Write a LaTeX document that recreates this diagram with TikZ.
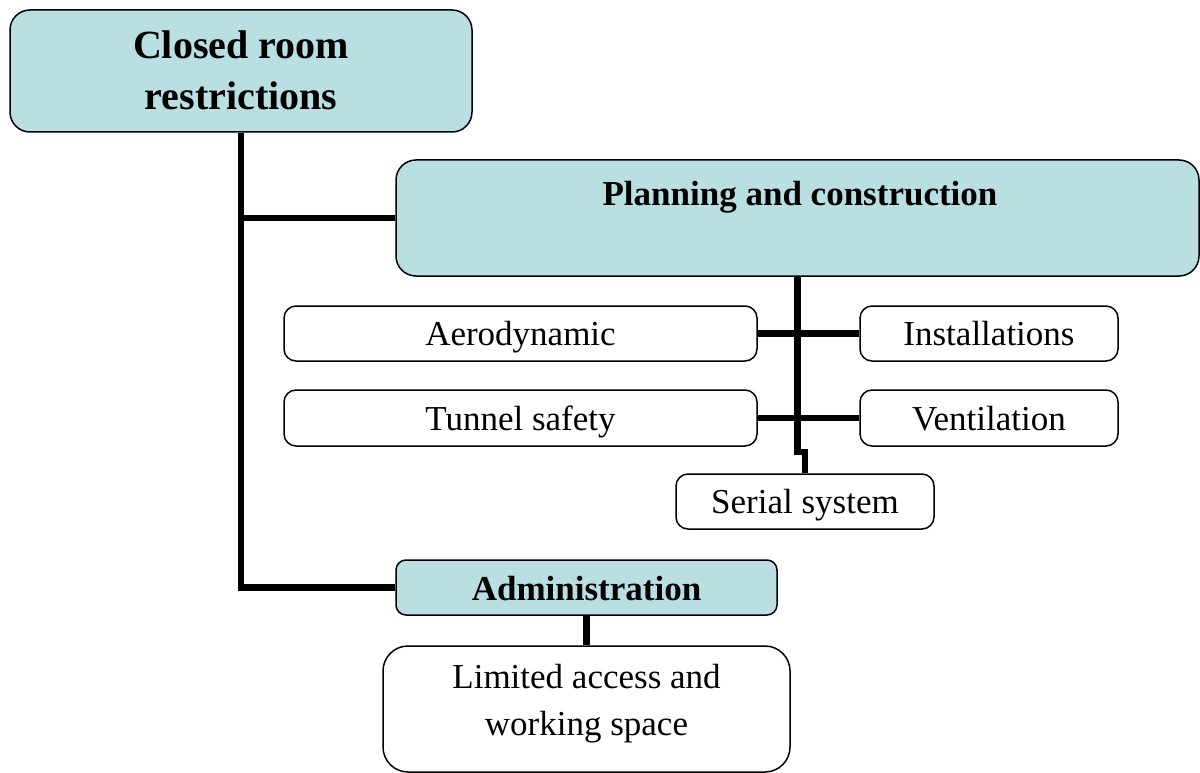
\documentclass[tikz,border=0pt]{standalone}
\usepackage{fontspec}
\setmainfont{Liberation Serif}
\definecolor{teal1}{RGB}{185,223,226}
\begin{document}
\begin{tikzpicture}[x=1pt,y=-1pt,
  box/.style={draw=black, line width=1.5pt, rounded corners=12pt, inner sep=0pt},
  tealbox/.style={box, fill=teal1},
  conn/.style={draw=black, line width=6.5pt},
  txt/.style={anchor=base, inner sep=0pt, font=\fontsize{35}{42}\selectfont},
  btxt/.style={anchor=base, inner sep=0pt, font=\fontsize{35}{42}\selectfont\bfseries},
  ttxt/.style={anchor=base, inner sep=0pt, font=\fontsize{40}{48}\selectfont\bfseries}]
\useasboundingbox (0,0) rectangle (1200,773);
% boxes
\node[tealbox, rounded corners=20pt, minimum width=462pt, minimum height=122pt] (root) at (241,71) {};
\node[tealbox, rounded corners=20pt, minimum width=803pt, minimum height=116pt] (plan) at (797.5,218) {};
\node[box, minimum width=473pt, minimum height=55pt] (aero) at (520.5,333.5) {};
\node[box, minimum width=258pt, minimum height=55pt] (inst) at (989,333.5) {};
\node[box, minimum width=473pt, minimum height=56pt] (tunnel) at (520.5,418) {};
\node[box, minimum width=258pt, minimum height=56pt] (vent) at (989,418) {};
\node[box, minimum width=258pt, minimum height=55pt] (serial) at (805,501.5) {};
\node[tealbox, rounded corners=10pt, minimum width=381pt, minimum height=55pt] (admin) at (586.5,587.5) {};
\node[box, rounded corners=25pt, minimum width=407pt, minimum height=126pt] (limited) at (586.5,709) {};
% connectors
\draw[conn] (root.south) |- (admin.west);
\draw[conn] (root.south |- plan.west) -- (plan.west);
\draw[conn] (plan.south) -- (plan.south |- 0,452) -| (serial.north);
\draw[conn] (aero.east) -- (inst.west);
\draw[conn] (tunnel.east) -- (vent.west);
\draw[conn] (admin.south) -- (limited.north);
% texts
\node[ttxt] (t1) at (241,59) {Closed room};
\node[ttxt] (t2) at (241,110) {restrictions};
\node[btxt] (t3) at (800,205) {Planning and construction};
\node[txt] (t4) at (520.5,345) {Aerodynamic};
\node[txt] (t5) at (989,345) {Installations};
\node[txt] (t6) at (520.5,430) {Tunnel safety};
\node[txt] (t7) at (989,430) {Ventilation};
\node[txt] (t8) at (805,513) {Serial system};
\node[btxt] (t9) at (586.5,600) {Administration};
\node[txt] (t10) at (586.5,688) {Limited access and};
\node[txt] (t11) at (586.5,735) {working space};
\end{tikzpicture}
\end{document}
